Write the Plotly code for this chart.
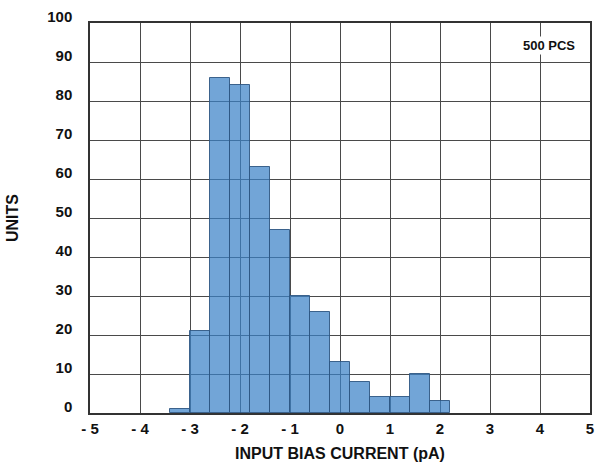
import plotly.graph_objects as go

# Data
bin_centers = [-3.2, -2.8, -2.4, -2.0, -1.6, -1.2, -0.8, -0.4, 0.0, 0.4, 0.8, 1.2, 1.6, 2.0]
bin_width = 0.4
units = [1, 21, 86, 84, 63, 47, 30, 26, 13, 8, 4, 4, 10, 3]

x_tickvals = [-5, -4, -3, -2, -1, 0, 1, 2, 3, 4, 5]
x_ticktext = ["- 5", "- 4", "- 3", "- 2", "- 1", "0", "1", "2", "3", "4", "5"]
y_tickvals = [0, 10, 20, 30, 40, 50, 60, 70, 80, 90, 100]

FONT = "Liberation Sans Narrow, Arial Narrow, Liberation Sans, Arial, sans-serif"

fig = go.Figure()
fig.add_trace(go.Bar(
    x=bin_centers, y=units, width=bin_width,
    marker=dict(color="rgba(60,130,200,0.72)",
                line=dict(color="rgba(45,85,130,0.9)", width=1)),
    showlegend=False,
))

fig.add_annotation(
    x=4.17, y=94.3, xref="x", yref="y", text="<b>500 PCS</b>",
    showarrow=False, bgcolor="white", xanchor="center", yanchor="middle",
    font=dict(family=FONT, size=13, color="#111"),
)

fig.update_layout(
    width=600, height=470,
    margin=dict(l=90, r=6, t=23, b=57),
    paper_bgcolor="white", plot_bgcolor="white",
    font=dict(family=FONT, color="#111"),
    bargap=0,
)

fig.update_xaxes(
    range=[-5, 5], tickvals=x_tickvals, ticktext=[f"<b>{t}</b>" for t in x_ticktext],
    tickfont=dict(size=15, family=FONT), ticks="", ticklabelstandoff=1,
    showgrid=True, gridcolor="#4a4a4a", gridwidth=1,
    showline=True, linecolor="#333", linewidth=1.5, mirror=True, zeroline=False,
    title=dict(text="<b>INPUT BIAS CURRENT (pA)</b>", font=dict(size=16, family=FONT), standoff=12),
)
fig.update_yaxes(
    range=[0, 100], tickvals=y_tickvals, ticktext=[f"<b>{v}</b>" for v in y_tickvals],
    tickfont=dict(size=15, family=FONT), ticks="", ticklabelstandoff=13, ticklabelshift=-6,
    showgrid=True, gridcolor="#4a4a4a", gridwidth=1,
    showline=True, linecolor="#333", linewidth=1.5, mirror=True, zeroline=False,
    title=dict(text="<b>UNITS</b>", font=dict(size=16, family=FONT), standoff=25),
)

fig.write_html("out.html")
